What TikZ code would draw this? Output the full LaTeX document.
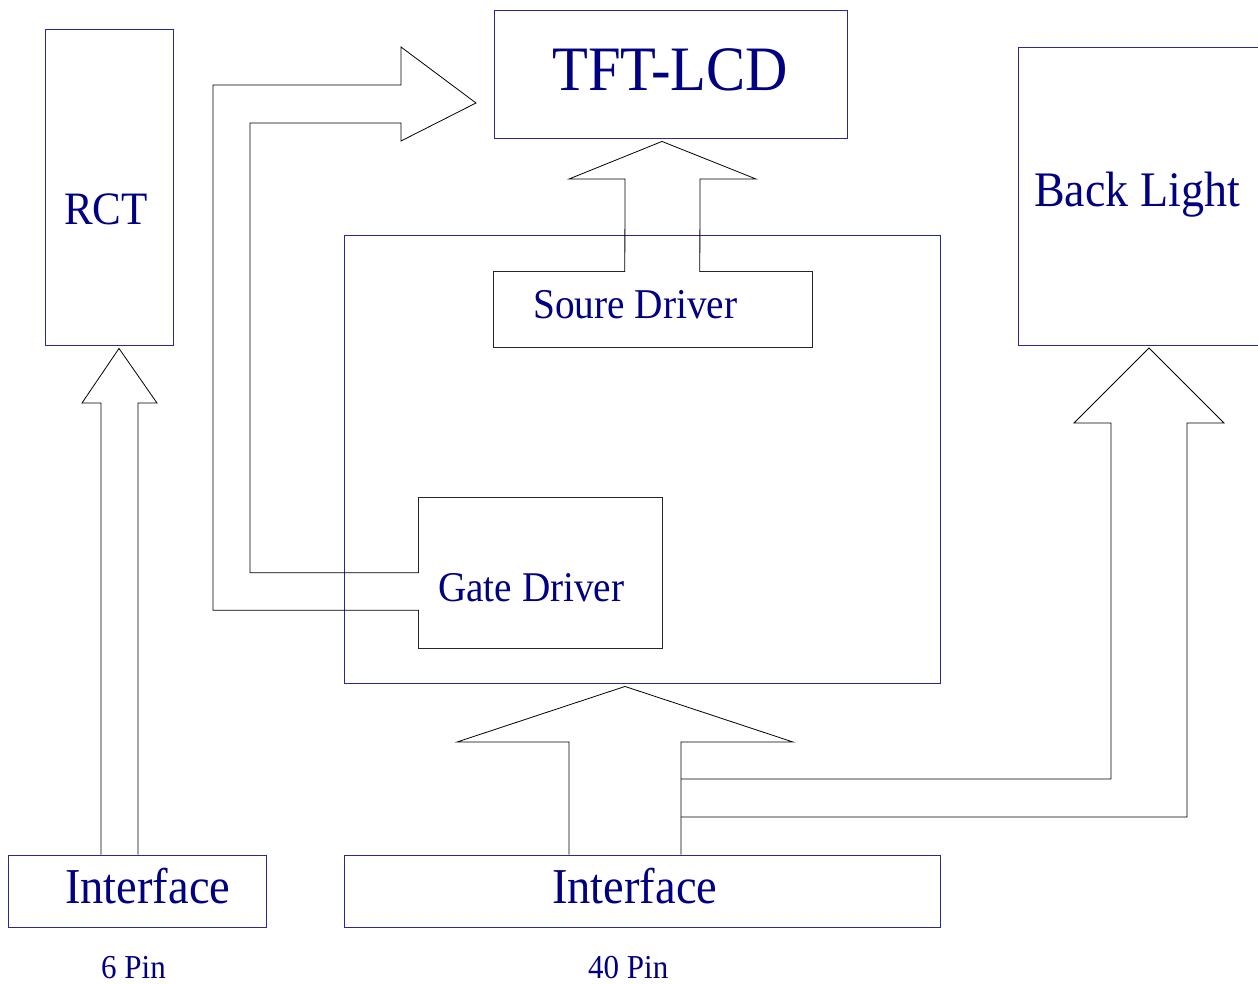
\documentclass[tikz,border=0pt]{standalone}
\usepackage{fontspec}
\setmainfont{Liberation Serif}
\usetikzlibrary{calc}
\definecolor{inknavy}{RGB}{0,0,128}
\definecolor{boxblue}{RGB}{40,40,150}
\begin{document}
\begin{tikzpicture}[x=1pt,y=-1pt,
  box/.style={draw=boxblue,line width=0.9pt,inner sep=0pt,rectangle},
  drvbox/.style={draw=none,inner sep=0pt,rectangle},
  drvline/.style={draw=black!85,line width=0.9pt},
  arrowline/.style={draw=black,line width=0.8pt,line join=miter},
  lbl/.style={inner sep=0pt,anchor=base west,text=inknavy},
]
\useasboundingbox (0,0) rectangle (1258,984);
\clip (0,0) rectangle (1258,984);

% blocks
\node[box,minimum width=128,minimum height=316] (rct) at (109,187) {};
\node[box,minimum width=353,minimum height=128] (tft) at (670.5,74) {};
\node[box,minimum width=596,minimum height=448] (panel) at (642,459) {};
\node[drvbox,minimum width=318,minimum height=75] (src) at (653,309.5) {};
\node[drvbox,minimum width=243,minimum height=150] (gate) at (540.5,573) {};
\node[box,minimum width=262,minimum height=298] (back) at (1149,196) {};
\node[box,minimum width=258,minimum height=72] (ifL) at (137,891) {};
\node[box,minimum width=596,minimum height=72] (ifR) at (642,891) {};

% labels
\newcommand{\tallish}[1]{\scalebox{1}[1.08]{#1}}
\node[lbl,font=\fontsize{43}{43}\selectfont] (rcttext) at (64,225) {\tallish{RCT}};
\node[lbl,font=\fontsize{58.6}{58.6}\selectfont] (tfttext) at (552,91) {\tallish{TFT-LCD}};
\node[lbl,font=\fontsize{39.3}{39.3}\selectfont] (srctext) at (533,318) {\tallish{Soure Driver}};
\node[lbl,font=\fontsize{39.2}{39.2}\selectfont] (gatetext) at (438,601) {\tallish{Gate Driver}};
\node[lbl,font=\fontsize{46}{46}\selectfont] (backtext) at (1034,207) {\tallish{Back Light}};
\node[lbl,font=\fontsize{46.5}{46.5}\selectfont] (ifLtext) at (65,903) {\tallish{Interface}};
\node[lbl,font=\fontsize{46.5}{46.5}\selectfont] (ifRtext) at (552,903) {\tallish{Interface}};
\node[lbl,font=\fontsize{31}{31}\selectfont] (pin6) at (101,978) {\tallish{6 Pin}};
\node[lbl,font=\fontsize{31}{31}\selectfont] (pin40) at (588,978) {\tallish{40 Pin}};

% driver outlines, open where the wide arrows enter
\coordinate (srcL) at ($(src.north west)+(131,0)$);
\coordinate (srcR) at ($(src.north west)+(206,0)$);
\draw[drvline] (srcL) -- (src.north west) -- (src.south west) -- (src.south east) -- (src.north east) -- (srcR);
\coordinate (gateT) at ($(gate.north west)+(0,75)$);
\coordinate (gateB) at ($(gate.south west)+(0,-38)$);
\draw[drvline] (gateT) -- (gate.north west) -- (gate.north east) -- (gate.south east) -- (gate.south west) -- (gateB);

% arrow tips, just clear of the blocks they point at
\coordinate (rcttip) at ($(rct.south)+(10,3)$);
\coordinate (tfttip) at ($(tft.south)+(-8.5,3)$);
\coordinate (paneltip) at ($(panel.south)+(-17,3)$);
\coordinate (backtip) at (1149,348);

% interface (6 pin) to RCT
\draw[arrowline] (101,0 |- ifL.north) -- (101,403) -- (82,403) -- (rcttip)
  -- (157,403) -- (138,403) -- (138,0 |- ifL.north);

% source driver to TFT-LCD
\draw[arrowline] (srcL) -- (625,179) -- (569,179) -- (tfttip) -- (756,179) -- (700,179) -- (srcR);

% gate driver to TFT-LCD
\draw[arrowline] (gateB) -- (213,0 |- gateB) -- (213,85) -- (401,85) -- (401,47) -- (476,103)
  -- (401,141) -- (401,123) -- (250,123) -- (250,0 |- gateT) -- (gateT);

% interface (40 pin) to panel and back light
\draw[arrowline] (569,0 |- ifR.north) -- (569,742) -- (457,742) -- (paneltip) -- (793,742)
  -- (681,742) -- (681,0 |- ifR.north);
\draw[arrowline] (681,779) -- (1111,779) -- (1111,423) -- (1074,423) -- (backtip)
  -- (1224,423) -- (1187,423) -- (1187,817) -- (681,817);
\end{tikzpicture}
\end{document}
